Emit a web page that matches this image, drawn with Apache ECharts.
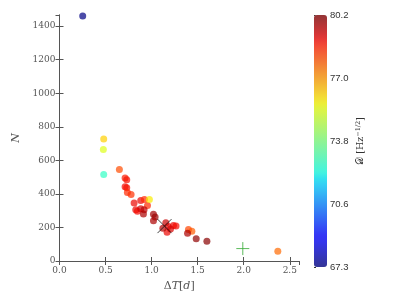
<!DOCTYPE html>
<html><head><meta charset="utf-8">
<script src="https://cdn.jsdelivr.net/npm/echarts@6/dist/echarts.min.js"></script>
<style>html,body{margin:0;padding:0;background:#fff}#c{width:399px;height:297px}</style>
</head><body><div id="c"></div>
<script>
// ---- data ----
const dT   = [0.252, 0.48, 0.476, 0.48, 0.65, 0.712, 0.73, 0.712, 0.73, 0.737, 0.777, 0.81, 0.828, 0.846, 0.882, 0.922, 0.955, 0.882, 0.918, 0.911, 1.02, 1.038, 1.02, 1.154, 1.18, 1.237, 1.265, 1.168, 1.205, 1.122, 1.40, 1.437, 1.39, 1.484, 1.60, 2.37, 0.976];
const Nval = [1460, 727, 665, 515, 545, 494, 484, 443, 437, 408, 396, 346, 305, 297, 360, 366, 331, 311, 305, 280, 278, 262, 240, 228, 205, 212, 209, 171, 190, 195, 187, 178, 166, 132, 117, 58, 366];
const Dval = [67.34, 76.2, 75.3, 72.6, 78.0, 78.7, 78.8, 78.9, 78.8, 78.5, 78.4, 79.0, 79.0, 78.9, 79.0, 78.5, 78.5, 79.3, 79.5, 79.7, 79.8, 79.9, 79.7, 79.4, 79.2, 79.0, 78.9, 79.0, 79.2, 79.6, 78.1, 77.8, 79.7, 80.0, 80.1, 77.6, 75.8];
const crossPt = [[1.14, 208]];
const plusPt  = [[1.99, 74]];
const cbarMin = 67.3, cbarMax = 80.2;
const cbarTicks = ['67.3', '70.6', '73.8', '77.0', '80.2'];
const xTicks = ['0.0', '0.5', '1.0', '1.5', '2.0', '2.5'];

// jet colormap
function seg(f, pts){ for(let i=0;i<pts.length-1;i++){const [a,va]=pts[i],[b,vb]=pts[i+1]; if(f>=a&&f<=b) return va+(vb-va)*(f-a)/(b-a);} return pts[pts.length-1][1]; }
function jet(f, a){
  const r=seg(f,[[0,0],[0.35,0],[0.66,1],[0.89,1],[1,0.5]]);
  const g=seg(f,[[0,0],[0.125,0],[0.375,1],[0.64,1],[0.91,0],[1,0]]);
  const b=seg(f,[[0,0.5],[0.11,1],[0.34,1],[0.65,0],[1,0]]);
  return `rgba(${Math.round(r*255)},${Math.round(g*255)},${Math.round(b*255)},${a})`;
}
const jetPts=[], jetBar=[];
for(let i=0;i<=40;i++){ jetPts.push(jet(i/40,0.88)); jetBar.push(jet(i/40,0.75)); }

const pts = dT.map((x,i)=>[x, Nval[i], Dval[i]]);
const serif = 'DejaVu Serif';
const grey = '#555';

const chart = echarts.init(document.getElementById('c'), null, {renderer:'canvas'});
chart.setOption({
  animation:false,
  grid:[
    {left:59.5, top:15, width:239.5, height:251.7, show:false},
    {left:314, top:15, width:13, height:252, show:false}
  ],
  xAxis:[
    {type:'value', gridIndex:0, min:0, max:2.6, interval:0.5,
     axisLine:{lineStyle:{color:grey, width:1}}, splitLine:{show:false},
     axisTick:{inside:true, length:4, lineStyle:{color:grey}},
     axisLabel:{showMaxLabel:false, color:grey, fontFamily:serif, fontSize:9, margin:5,
       formatter:(v)=>xTicks[Math.round(v/0.5)]},
     name:'{n|Δ}{i|T}{n|[}{i|d}{n|]}', nameLocation:'middle', nameGap:20,
     nameTextStyle:{rich:{n:{fontFamily:serif,fontSize:11,color:grey},i:{fontFamily:serif,fontStyle:'italic',fontSize:11,color:grey}}}},
    {type:'value', gridIndex:0, min:0, max:2.6, interval:0.5, position:'top',
     axisLine:{lineStyle:{color:grey}}, splitLine:{show:false},
     axisTick:{inside:true, length:4, lineStyle:{color:grey}}, axisLabel:{show:false}},
    {type:'value', gridIndex:1, min:0, max:1, show:false}
  ],
  yAxis:[
    {type:'value', gridIndex:0, min:0, max:1466, interval:200,
     axisLine:{show:true, lineStyle:{color:grey}}, splitLine:{show:false},
     axisTick:{show:true, inside:true, length:4, lineStyle:{color:grey}},
     axisLabel:{showMaxLabel:false, color:grey, fontFamily:serif, fontSize:9, margin:4, formatter:(v)=>String(v)},
     name:'N', nameLocation:'middle', nameGap:30, nameRotate:90,
     nameTextStyle:{fontFamily:serif, fontStyle:'italic', fontSize:11, color:grey}},
    {type:'value', gridIndex:0, min:0, max:1466, interval:200, position:'right',
     axisLine:{show:true, lineStyle:{color:grey}}, splitLine:{show:false},
     axisTick:{show:true, inside:true, length:4, lineStyle:{color:grey}}, axisLabel:{show:false}},
    {type:'value', gridIndex:1, min:0, max:cbarTicks.length-1, interval:1, position:'right',
     axisLine:{show:false}, splitLine:{show:false},
     axisTick:{show:true, length:2, lineStyle:{color:'#333'}},
     axisLabel:{color:'#333', fontFamily:'Liberation Sans', fontSize:9.5, margin:3, formatter:(v)=>cbarTicks[Math.round(v)]},
     name:'{n|𝒟 [Hz}{s|−1/2}{n|]}', nameLocation:'middle', nameRotate:90, nameGap:28,
     nameTextStyle:{rich:{n:{fontFamily:serif,fontSize:9.5,color:'#333'},s:{fontFamily:serif,fontSize:6.5,color:'#333',verticalAlign:'top',padding:[0,0,5,0]}}}}
  ],
  visualMap:[
    {type:'continuous', min:cbarMin, max:cbarMax, dimension:2, seriesIndex:0, show:false,
     inRange:{color:jetPts}},
    {type:'continuous', min:cbarMin, max:cbarMax, dimension:2, seriesIndex:3,
     left:314, top:15, itemWidth:13, itemHeight:252, padding:0, calculable:false,
     text:null, inRange:{color:jetBar}, borderWidth:0}
  ],
  series:[
    {type:'scatter', xAxisIndex:0, yAxisIndex:0, data:pts, symbolSize:7, itemStyle:{borderWidth:0}},
    {type:'scatter', xAxisIndex:0, yAxisIndex:0, data:crossPt, symbol:'path://M0,0L10,10M10,0L0,10', symbolSize:14,
     itemStyle:{color:'none', borderColor:'#111', borderWidth:1}},
    {type:'scatter', xAxisIndex:0, yAxisIndex:0, data:plusPt, symbol:'path://M5,0L5,10M0,5L10,5', symbolSize:13,
     itemStyle:{color:'none', borderColor:'#3a3', borderWidth:1}},
    {type:'scatter', xAxisIndex:2, yAxisIndex:2, data:[]}
  ]
});
</script></body></html>
